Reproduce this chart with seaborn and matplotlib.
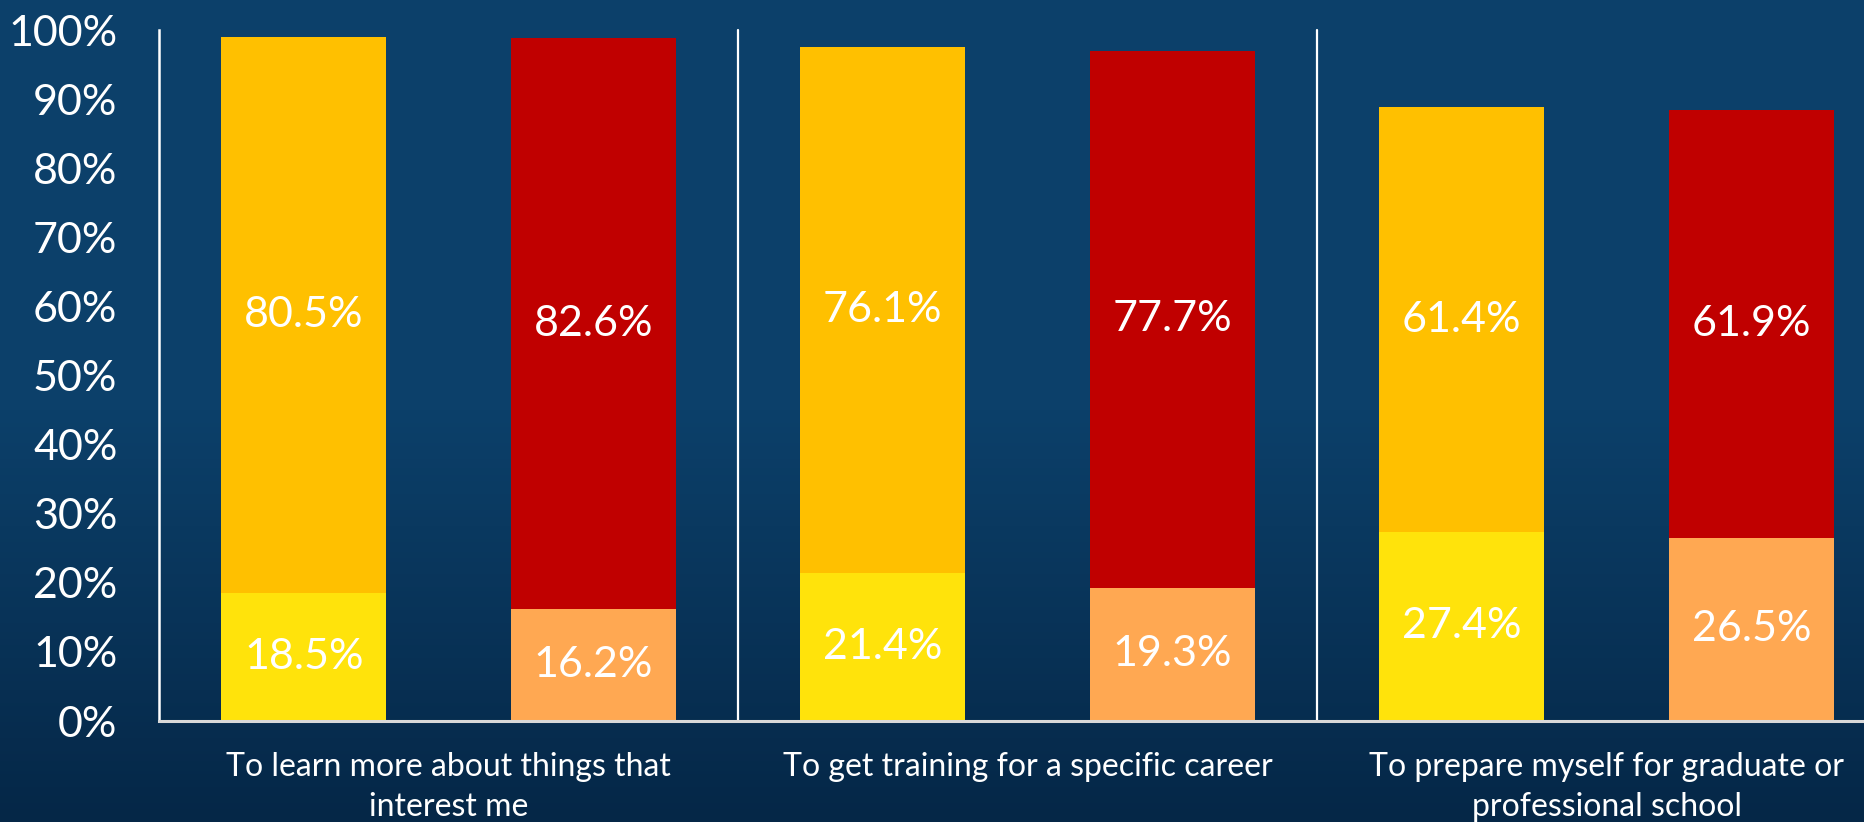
import numpy as np
import pandas as pd
import matplotlib
matplotlib.use("Agg")
import matplotlib.pyplot as plt
import matplotlib.colors as mcolors
from matplotlib.ticker import PercentFormatter
import seaborn as sns

# --- data ---
categories = [
    "To learn more about things that\ninterest me",
    "To get training for a specific career",
    "To prepare myself for graduate or\nprofessional school",
]
series = ["Series A", "Series B"]
top_a = [80.5, 76.1, 61.4]      # gold segment
bottom_a = [18.5, 21.4, 27.4]   # yellow segment
top_b = [82.6, 77.7, 61.9]      # red segment
bottom_b = [16.2, 19.3, 26.5]   # orange segment

# colours
gold, red = "#FFC000", "#C00000"
yellow, orange = "#FFE30B", "#FFA852"
bg_top, bg_bottom = "#0C406A", "#052747"

rows = []
for i, cat in enumerate(categories):
    rows.append(dict(cat=cat, series=series[0], top=top_a[i], bottom=bottom_a[i]))
    rows.append(dict(cat=cat, series=series[1], top=top_b[i], bottom=bottom_b[i]))
df = pd.DataFrame(rows)
df["total"] = (df["top"] + df["bottom"]) / 100
df["bottom_frac"] = df["bottom"] / 100

sns.set_theme(style="white")
plt.rcParams["font.family"] = ["Lato", "DejaVu Sans"]

fig = plt.figure(figsize=(18.65, 8.22), dpi=100)

# background gradient
bg = fig.add_axes([0, 0, 1, 1], zorder=-10)
cmap = mcolors.LinearSegmentedColormap.from_list("bg", [bg_top, bg_top, bg_bottom])
bg.imshow(np.linspace(0, 1, 256).reshape(-1, 1), aspect="auto", cmap=cmap,
          extent=[0, 1, 0, 1], origin="upper")
bg.set_axis_off()

# main axes (runs past the right edge, like the cropped slide)
ax = fig.add_axes([159 / 1865, 1 - 721 / 822, 1737 / 1865, (721 - 30) / 822])
ax.set_facecolor("none")

sns.barplot(data=df, x="cat", y="total", hue="series", palette=[gold, red],
            width=1.0, gap=0.43, saturation=1, legend=False, ax=ax, linewidth=0)
sns.barplot(data=df, x="cat", y="bottom_frac", hue="series", palette=[yellow, orange],
            width=1.0, gap=0.43, saturation=1, legend=False, ax=ax, linewidth=0)

# value labels, centred in each segment
tops = [top_a, top_b]
bottoms = [bottom_a, bottom_b]
for s in range(2):
    for j, patch in enumerate(ax.containers[s]):
        xc = patch.get_x() + patch.get_width() / 2
        b, t = bottoms[s][j], tops[s][j]
        ax.text(xc, (b + t / 2) / 100, f"{t:.1f}%", ha="center", va="center",
                color="white", fontsize=31)
        ax.text(xc, (b / 2) / 100, f"{b:.1f}%", ha="center", va="center",
                color="white", fontsize=31)

# group separators
for xs in [0.5, 1.5]:
    ax.plot([xs, xs], [0, 1], color="white", lw=1.6, clip_on=False)

ax.set_xlim(-0.5, 2.5)
ax.set_ylim(0, 1)
ax.set_yticks(np.arange(0, 1.01, 0.1))
ax.yaxis.set_major_formatter(PercentFormatter(1.0, decimals=0))
ax.set_xlabel("")
ax.set_ylabel("")
ax.tick_params(axis="y", length=0, pad=30, labelsize=31, labelcolor="white")
ax.tick_params(axis="x", length=0, pad=22, labelsize=23, labelcolor="white")
for lbl in ax.get_xticklabels():
    lbl.set_linespacing(1.42)

for side in ["top", "right"]:
    ax.spines[side].set_visible(False)
ax.spines["left"].set_color("white")
ax.spines["left"].set_linewidth(1.8)
ax.spines["bottom"].set_color("#D9D9D9")
ax.spines["bottom"].set_linewidth(2.2)
ax.grid(False)

fig.savefig("out.png", dpi=100)
